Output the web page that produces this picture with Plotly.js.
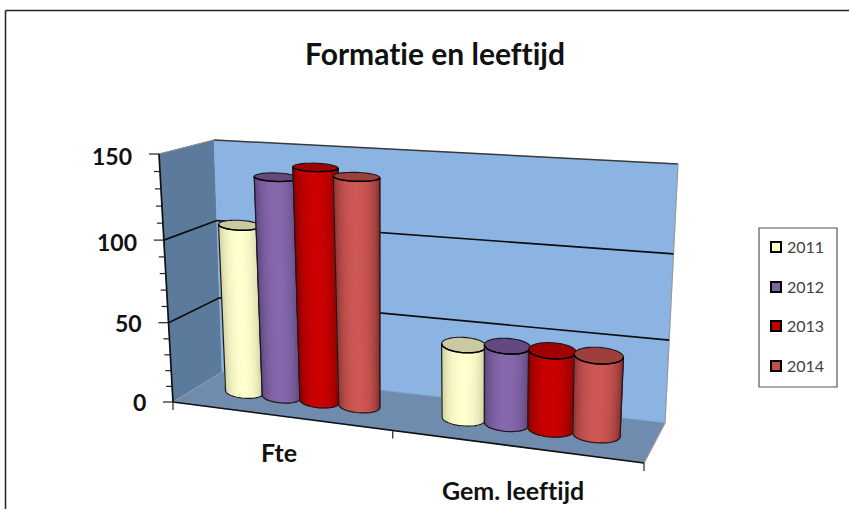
<!DOCTYPE html>
<html>
<head>
<meta charset="utf-8">
<script src="https://cdn.plot.ly/plotly-3.0.1.min.js"></script>
<style>html,body{margin:0;padding:0;background:#fff}#chart{width:849px;height:509px}
svg text{font-variant-ligatures:none;font-feature-settings:"liga" 0}</style>
</head>
<body>
<div id="chart"></div>
<script>
// ---- data ----
var categories = ['Fte', 'Gem. leeftijd'];
var years = ['2011', '2012', '2013', '2014'];
var values2011 = [105, 45];
var values2012 = [135, 47];
var values2013 = [142, 47];
var values2014 = [138, 47];
var yTicks = [0, 50, 100, 150];
var yMax = 150;

// ---- styles ----
var seriesValues = [values2011, values2012, values2013, values2014];
var edgeColors = [[196,196,150],[84,62,112],[120,0,0],[130,44,42]];
var midColors  = [[255,255,206],[134,104,172],[204,0,0],[206,88,84]];
var capColors  = ['#c9c9a2','#63497f','#a00000','#9c3f3d'];
var flatColors = ['#ffffcc','#8064a2','#c00000','#c0504d'];

// ---- oblique view: corners of the plot box on the page ----
var floorQuad = [[173,402],[644,463],[665,423],[222,372]];
var topQuad   = [[159,154],[657,186],[678,164],[214,140]];
function homography(q){
  var x0=q[0][0],y0=q[0][1],x1=q[1][0],y1=q[1][1],x2=q[2][0],y2=q[2][1],x3=q[3][0],y3=q[3][1];
  var dx1=x1-x2,dx2=x3-x2,sx=x0-x1+x2-x3,dy1=y1-y2,dy2=y3-y2,sy=y0-y1+y2-y3;
  var den=dx1*dy2-dx2*dy1,g=(sx*dy2-dx2*sy)/den,h=(dx1*sy-sx*dy1)/den;
  var a=x1-x0+g*x1,b=x3-x0+h*x3,d=y1-y0+g*y1,e=y3-y0+h*y3;
  return function(u,v){var w=g*u+h*v+1;return [(a*u+b*v+x0)/w,(d*u+e*v+y0)/w];};
}
var H0=homography(floorQuad), H1=homography(topQuad);
function P(c,d,val){
  var t=val/yMax, k=0.94, f=k*t/(1+(k-1)*t);
  var p0=H0(c,d), p1=H1(c,d);
  return [p0[0]+(p1[0]-p0[0])*f, p0[1]+(p1[1]-p0[1])*f];
}
// uprights inside the box fan out from the middle of the view
function Q(c,d,val){
  var p=P(c,d,val), b=H0(c,d);
  return [b[0]+(b[0]-430)*0.00017*(b[1]-p[1]), p[1]];
}

var traces=[];
function poly(pts,fill,line,width){
  traces.push({type:'scatter',mode:'lines',x:pts.map(function(p){return p[0];}),y:pts.map(function(p){return p[1];}),
    fill:fill?'toself':'none',fillcolor:fill||undefined,line:{color:line||fill,width:width===undefined?0.5:width,simplify:false},
    hoverinfo:'skip',showlegend:false});
}
// walls
poly([P(0,0,0),P(0,0,yMax),P(0,1,yMax),P(0,1,0),P(0,0,0)],'#5c7a9c');
poly([P(0,1,0),P(0,1,yMax),P(1,1,yMax),P(1,1,0),P(0,1,0)],'#8cb4e3');
poly([P(0,0,0),P(0,1,0),P(1,1,0),P(1,0,0),P(0,0,0)],'#6f8bae');
// wall edges
poly([P(0,0,yMax),P(0,1,yMax)],null,'#8a8a8a',1.2);
poly([P(0,1,yMax),P(1,1,yMax)],null,'#3a3a3a',1.5);
poly([P(1,1,yMax),P(1,1,0),P(1,0,0)],null,'#9a9a9a',1.2);
poly([P(0,1,0),P(0,0,0)],null,'#9a9a9a',1);
// gridlines
yTicks.slice(1,3).forEach(function(v){
  poly([P(0,0,v),P(0,1,v),P(1,1,v)],null,'#0d0d0d',1.7);
});
// axis lines and ticks
poly([P(0,0,0),P(0,0,yMax)],null,'#111',1.7);
poly([P(0,0,0),P(1,0,0)],null,'#111',1.7);
for(var tv=0;tv<=yMax;tv+=10){
  var tp=P(0,0,tv);
  poly([tp,[tp[0]-((tv%50===0)?10:6),tp[1]]],null,'#222',1.2);
}
[0,0.51,1].forEach(function(c){
  var tp=P(c,0,0);
  poly([tp,[tp[0],tp[1]+8]],null,'#222',1.2);
});

// cylinders
var catCenter=[0.254,0.755], catStep=[0.0915,0.0895], catRadius=[0.047,0.0455], depthHalf=0.25;
function ellipsePts(c,radius,val,from,to,n){
  var ctr=Q(c,0.5,val), right=Q(c+radius,0.5,val), left=Q(c-radius,0.5,val);
  var front=P(c,0.5+depthHalf,val), back=P(c,0.5-depthHalf,val);
  var base=Q(c,0.5,0);
  var ry=Math.abs(back[1]-front[1])/2*(val===0?0.8:1), out=[];
  var widen=1+0.0004*(base[1]-ctr[1]);
  for(var i=0;i<=n;i++){
    var th=from+(to-from)*i/n, co=Math.cos(th);
    var ax=co>=0?[right[0]-ctr[0],right[1]-ctr[1]]:[ctr[0]-left[0],ctr[1]-left[1]];
    out.push([ctr[0]+ax[0]*co*widen, ctr[1]+ax[1]*co*0.6+ry*Math.sin(th)]);
  }
  return out;
}
function mix(a,b,t){return 'rgb('+[0,1,2].map(function(i){return Math.round(a[i]+(b[i]-a[i])*t);}).join(',')+')';}
categories.forEach(function(cat,ci){
  years.forEach(function(yr,si){
    var c=catCenter[ci]+(si-1.5)*catStep[ci], r=catRadius[ci], val=seriesValues[si][ci], n=24;
    var topFront=ellipsePts(c,r,val,Math.PI,0,n), botFront=ellipsePts(c,r,0,Math.PI,0,n);
    for(var i=0;i<n;i++){
      var u=(i+0.5)/n, s=Math.sin(Math.PI*u);
      var t=Math.pow(s,1.3);
      var col=mix(edgeColors[si],midColors[si],t);
      poly([topFront[i],topFront[i+1],botFront[i+1],botFront[i],topFront[i]],col,col,1);
    }
    var cap=ellipsePts(c,r,val,0,2*Math.PI,48);
    poly(cap,capColors[si],'#1a1a1a',1.1);
    var outline=[topFront[0]].concat(botFront).concat([topFront[n]]);
    poly(outline,null,'#1a1a1a',1.2);
    poly(topFront,null,'#000',1.5);
  });
});

// legend
var legendX=776, legendTextX=786, legendY=[247,287,326,366];
var ann=[];
years.forEach(function(yr,si){
  traces.push({type:'scatter',mode:'markers',name:yr,x:[legendX],y:[legendY[si]],
    marker:{symbol:'square',size:10,color:flatColors[si],line:{color:'#000',width:2}},hoverinfo:'name',showlegend:false});
  ann.push({x:legendTextX,y:legendY[si]-1,xref:'x',yref:'y',text:yr,showarrow:false,xanchor:'left',yanchor:'middle',xshift:-1,
    font:{family:'Lato, sans-serif',size:16,color:'#404040'}});
});

var yTickRight=[147,143,138,133], yTickMid=[402,323,242,156];
yTicks.forEach(function(v,i){
  ann.push({x:yTickRight[i],y:yTickMid[i],xref:'x',yref:'y',text:'<b>'+v+'</b>',showarrow:false,xanchor:'right',yanchor:'middle',xshift:1,
    font:{family:'Lato, sans-serif',size:23,color:'#111'}});
});
var labelPos=[[279,452],[512.5,490]];
categories.forEach(function(cat,i){
  ann.push({x:labelPos[i][0],y:labelPos[i][1],xref:'x',yref:'y',text:'<b>'+cat+'</b>',showarrow:false,
    font:{family:'Lato, sans-serif',size:25,color:'#111'}});
});

var layout={
  width:849,height:509,margin:{l:0,r:0,t:0,b:0},paper_bgcolor:'#fff',plot_bgcolor:'#fff',showlegend:false,
  title:{text:'<b>Formatie en leeftijd</b>',x:435/849,xanchor:'center',y:1-54/509,yanchor:'middle',
    font:{family:'Lato, sans-serif',size:30,color:'#111'}},
  xaxis:{range:[0,849],visible:false,fixedrange:true},
  yaxis:{range:[509,0],visible:false,fixedrange:true},
  annotations:ann,
  shapes:[
    {type:'rect',xref:'x',yref:'y',x0:759,x1:837,y0:228,y1:387,line:{color:'#555',width:1.2},fillcolor:'rgba(255,255,255,0)'},
    {type:'line',xref:'x',yref:'y',x0:5.5,x1:849,y0:10.5,y1:10.5,line:{color:'#222',width:1.5}},
    {type:'line',xref:'x',yref:'y',x0:5.5,x1:5.5,y0:10.5,y1:509,line:{color:'#222',width:1.5}}
  ]
};
Plotly.newPlot('chart',traces,layout,{displayModeBar:false,staticPlot:true});
</script>
</body>
</html>
